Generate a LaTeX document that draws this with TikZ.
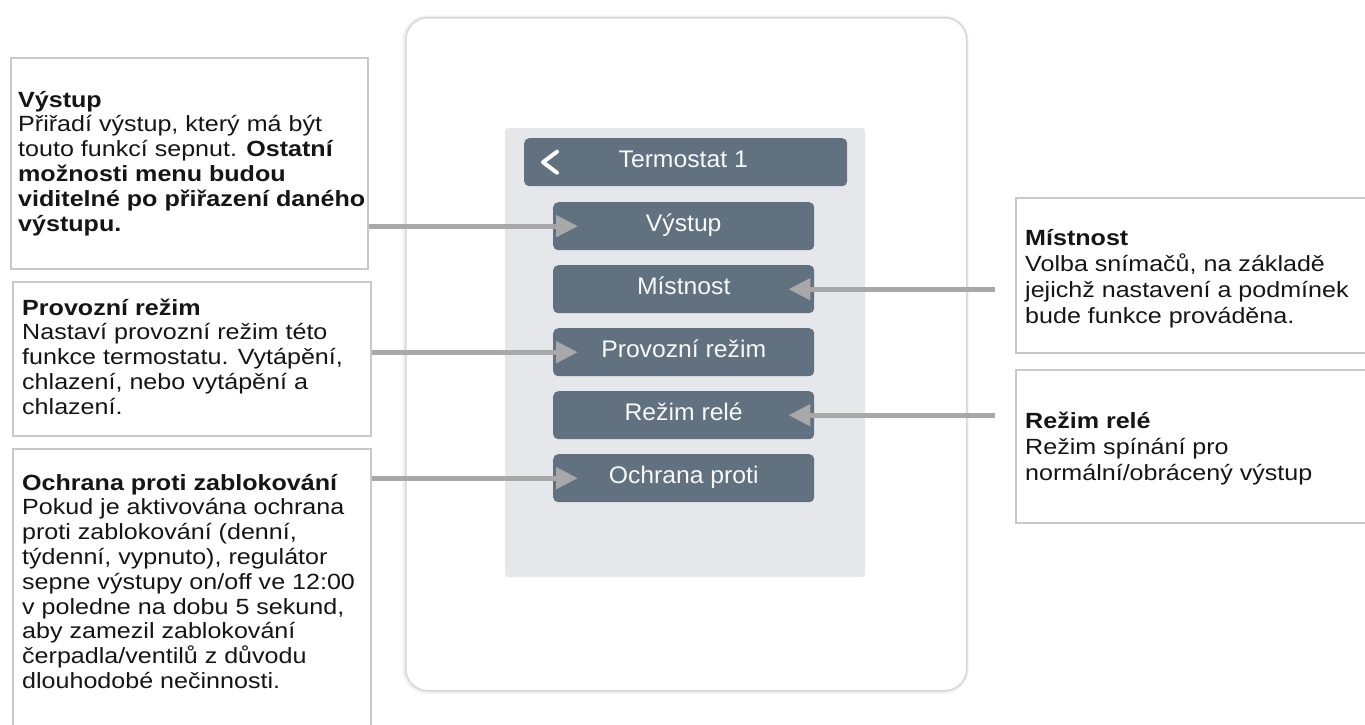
\documentclass[tikz,border=0pt]{standalone}
\usepackage{fontspec}
\setmainfont{Liberation Sans}[FakeStretch=1.14]
\newfontfamily\btnfont{Liberation Sans}[FakeStretch=1.03]
\usetikzlibrary{arrows.meta}
\definecolor{btnc}{HTML}{617180}
\definecolor{panelc}{HTML}{E6E7EA}
\definecolor{boxline}{HTML}{C9C9C9}
\definecolor{arrowc}{HTML}{A8A8A8}
\definecolor{txt}{HTML}{151515}
\definecolor{devline}{HTML}{D8D8D8}
\begin{document}
\begin{tikzpicture}[x=1pt,y=-1pt,
  infobox/.style={draw=boxline, line width=1.5pt, fill=white, anchor=north west, inner sep=0pt},
  infotext/.style={anchor=north west, inner sep=0pt, align=left, text=txt, font=\fontsize{22}{24.8}\selectfont},
  infotextr/.style={infotext, font=\fontsize{22}{26}\selectfont},
  menubtn/.style={fill=btnc, rounded corners=5pt, anchor=north west, inner sep=0pt,
    text=white!95!btnc, font=\btnfont\fontsize{24}{26}\selectfont,
    text height=17pt, text depth=5.6pt, minimum height=48pt},
  arr/.style={draw=arrowc, line width=5pt, -{Triangle[length=22pt,width=21pt]}}]
\useasboundingbox (0,0) rectangle (1365,724);
\clip (0,0) rectangle (1365,724);
\fill[white] (0,0) rectangle (1365,724);

% device
\draw[rounded corners=22pt, draw=black!6, line width=5pt] (405,18) rectangle (966,691);
\node[draw=devline, line width=1.5pt, fill=white, rounded corners=22pt, anchor=north west, inner sep=0pt,
  minimum width=561pt, minimum height=673pt] (dev) at (405,17) {};
\node[fill=panelc, rounded corners=3pt, anchor=north west, inner sep=0pt,
  minimum width=360pt, minimum height=449pt] (panel) at (505,128) {};

% menu
\node[menubtn, minimum width=323pt] (hdr) at (524,138) {\hspace*{-5pt}Termostat 1};
\draw[white, line width=4pt, line cap=round, line join=round]
  ([shift={(33pt,-10.5pt)}]hdr.west) -- ([shift={(19pt,0pt)}]hdr.west) -- ([shift={(33pt,10.5pt)}]hdr.west);
\node[menubtn, minimum width=261pt] (v1) at (553,202) {Výstup};
\node[menubtn, minimum width=261pt] (v2) at (553,265) {Místnost};
\node[menubtn, minimum width=261pt] (v3) at (553,328) {Provozní režim};
\node[menubtn, minimum width=261pt] (v4) at (553,391) {Režim relé};
\node[menubtn, minimum width=261pt] (v5) at (553,454) {Ochrana proti};

% left boxes
\node[infobox, minimum width=357pt, minimum height=211pt] (b1) at (10,57) {};
\node[infobox, minimum width=358pt, minimum height=154pt] (b2) at (12,281) {};
\node[infobox, minimum width=358pt, minimum height=300pt] (b3) at (12,448) {};
\node[infotext] (t1) at (18,89.6) {\strut\textbf{Výstup}\\
  Přiřadí výstup, který má být\\
  touto funkcí sepnut. \textbf{Ostatní}\\
  \textbf{možnosti menu budou}\\
  \textbf{viditelné po přiřazení daného}\\
  \textbf{výstupu.}};
\node[infotext] (t2) at (22,297.6) {\strut\textbf{Provozní režim}\\
  Nastaví provozní režim této\\
  funkce termostatu. Vytápění,\\
  chlazení, nebo vytápění a\\
  chlazení.};
\node[infotext] (t3) at (22,472.6) {\strut\textbf{Ochrana proti zablokování}\\
  Pokud je aktivována ochrana\\
  proti zablokování (denní,\\
  týdenní, vypnuto), regulátor\\
  sepne výstupy on/off ve 12:00\\
  v poledne na dobu 5 sekund,\\
  aby zamezil zablokování\\
  čerpadla/ventilů z důvodu\\
  dlouhodobé nečinnosti.};

% right boxes
\node[infobox, minimum width=380pt, minimum height=155pt] (r1) at (1015,197) {};
\node[infobox, minimum width=380pt, minimum height=153pt] (r2) at (1015,369) {};
\node[infotextr] (t4) at (1025,226.8) {\strut\textbf{Místnost}\\
  Volba snímačů, na základě\\
  jejichž nastavení a podmínek\\
  bude funkce prováděna.};
\node[infotextr] (t5) at (1025,409.8) {\strut\textbf{Režim relé}\\
  Režim spínání pro\\
  normální/obrácený výstup};

% arrows
\draw[arr] (b1.east |- v1.west) -- ([xshift=25pt]v1.west);
\draw[arr] (b2.east |- v3.west) -- ([xshift=25pt]v3.west);
\draw[arr] (b3.east |- v5.west) -- ([xshift=25pt]v5.west);
\draw[arr] ([xshift=-20pt]r1.west |- v2.east) -- ([xshift=-26pt]v2.east);
\draw[arr] ([xshift=-20pt]r2.west |- v4.east) -- ([xshift=-26pt]v4.east);
\end{tikzpicture}
\end{document}
